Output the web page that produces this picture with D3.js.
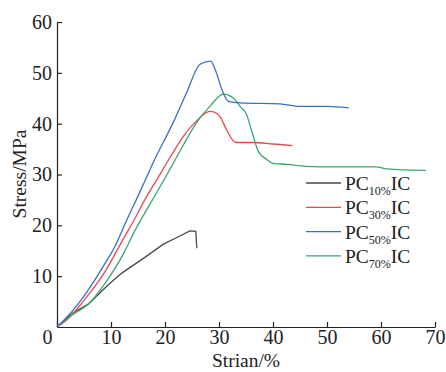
<!DOCTYPE html>
<html>
<head>
<meta charset="utf-8">
<script src="https://cdn.jsdelivr.net/npm/d3@7"></script>
<style>
  body { margin: 0; background: #fff; }
  text { font-family: "Liberation Serif", "Times New Roman", serif; fill: #222; }
</style>
</head>
<body>
<script>
// strain (%) / stress (MPa)
var pc10x = [0, 3.0, 5.8, 9.5, 12.0, 16.4, 19.7, 22.2, 24.6, 25.7, 25.9];
var pc10y = [0, 2.8, 4.5, 8.3, 10.6, 13.8, 16.3, 17.6, 18.9, 18.8, 15.5];

var pc30x = [0, 1.8, 5.8, 8.9, 12.0, 14.5, 16.4, 18.5, 20.9, 23.4, 25.9, 28.3, 29.0, 30.2, 31.4, 33.1, 36.4, 40.0, 43.6];
var pc30y = [0, 1.4, 6.3, 10.9, 16.8, 21.5, 25.3, 29.0, 33.3, 37.5, 40.6, 42.4, 42.3, 41.4, 38.8, 36.3, 36.3, 36.0, 35.7];

var pc50x = [0, 3.3, 5.8, 8.9, 10.7, 12.9, 14.8, 16.4, 17.8, 21.5, 24.0, 26.5, 28.5, 29.3, 30.8, 31.7, 33.9, 41.3, 45.0, 50.0, 54.0];
var pc50y = [0, 3.7, 7.3, 12.5, 15.8, 21.0, 25.3, 29.0, 32.3, 40.2, 46.1, 51.7, 52.3, 50.6, 46.0, 44.4, 44.1, 43.9, 43.4, 43.4, 43.1];

var pc70x = [0, 3.0, 5.8, 8.9, 12.0, 14.5, 16.4, 18.5, 20.9, 23.4, 25.9, 28.3, 30.8, 32.7, 33.9, 35.1, 36.0, 37.3, 38.8, 40.0, 42.5, 46.2, 51.2, 59.2, 61.0, 68.3];
var pc70y = [0, 2.5, 4.5, 8.6, 13.8, 19.1, 22.7, 26.5, 31.0, 35.8, 40.3, 43.4, 45.8, 45.0, 43.4, 41.8, 38.8, 34.5, 33.0, 32.2, 32.0, 31.6, 31.5, 31.5, 31.1, 30.8];

var seriesNames = ["10%", "30%", "50%", "70%"];
var seriesColors = ["#4a4a4a", "#e8484c", "#3a70c2", "#3aa86c"];
var xTicks = [0, 10, 20, 30, 40, 50, 60, 70];
var yTicks = [10, 20, 30, 40, 50, 60];

var width = 446, height = 372;
var x0 = 57, x1 = 435, y0 = 327, y1 = 22;

var svg = d3.select("body").append("svg")
    .attr("width", width)
    .attr("height", height);

var x = d3.scaleLinear().domain([0, 70]).range([x0, x1]);
var y = d3.scaleLinear().domain([0, 60]).range([y0, y1]);

var xAxis = svg.append("g")
    .attr("transform", "translate(0," + y0 + ")")
    .call(d3.axisBottom(x).tickValues(xTicks).tickSizeInner(-5).tickSizeOuter(0).tickPadding(3));
var yAxis = svg.append("g")
    .attr("transform", "translate(" + x0 + ",0)")
    .call(d3.axisLeft(y).tickValues(yTicks).tickSizeInner(-5).tickSizeOuter(0).tickPadding(5));

[xAxis, yAxis].forEach(function (a) {
  a.select(".domain").attr("stroke", "#222").attr("stroke-width", 1.2);
  a.selectAll(".tick line").attr("stroke", "#222").attr("stroke-width", 1.2);
  a.selectAll(".tick text").attr("font-size", 20).attr("font-family", "Liberation Serif").attr("fill", "#222");
});
xAxis.selectAll(".tick text").filter(function (d) { return d === 0; }).attr("dx", -10);

svg.append("text")
    .attr("x", 246).attr("y", 367)
    .attr("text-anchor", "middle")
    .attr("font-size", 19.5)
    .text("Strian/%");

svg.append("text")
    .attr("transform", "translate(26,174) rotate(-90)")
    .attr("text-anchor", "middle")
    .attr("font-size", 19.5)
    .text("Stress/MPa");

var xs = [pc10x, pc30x, pc50x, pc70x];
var ys = [pc10y, pc30y, pc50y, pc70y];

var line = d3.line()
    .x(function (d) { return x(d[0]); })
    .y(function (d) { return y(d[1]); })
    .curve(d3.curveMonotoneX);

[0, 1, 3, 2].forEach(function (i) {
  var pts = xs[i].map(function (v, j) { return [v, ys[i][j]]; });
  svg.append("path")
      .datum(pts)
      .attr("fill", "none")
      .attr("stroke", seriesColors[i])
      .attr("stroke-width", 1.3)
      .attr("d", i === 0 ? line.curve(d3.curveLinear)(pts) : line.curve(d3.curveMonotoneX)(pts));
});

var legend = svg.append("g");
seriesNames.forEach(function (name, i) {
  var ly = 183 + i * 24.3;
  legend.append("line")
      .attr("x1", 306).attr("x2", 341)
      .attr("y1", ly).attr("y2", ly)
      .attr("stroke", seriesColors[i])
      .attr("stroke-width", 1.3);
  var t = legend.append("text")
      .attr("x", 345).attr("y", ly + 7)
      .attr("font-size", 19.5);
  t.append("tspan").text("PC");
  t.append("tspan").attr("font-size", 12).attr("dy", 5).text(name);
  t.append("tspan").attr("dy", -5).text("IC");
});
</script>
</body>
</html>
